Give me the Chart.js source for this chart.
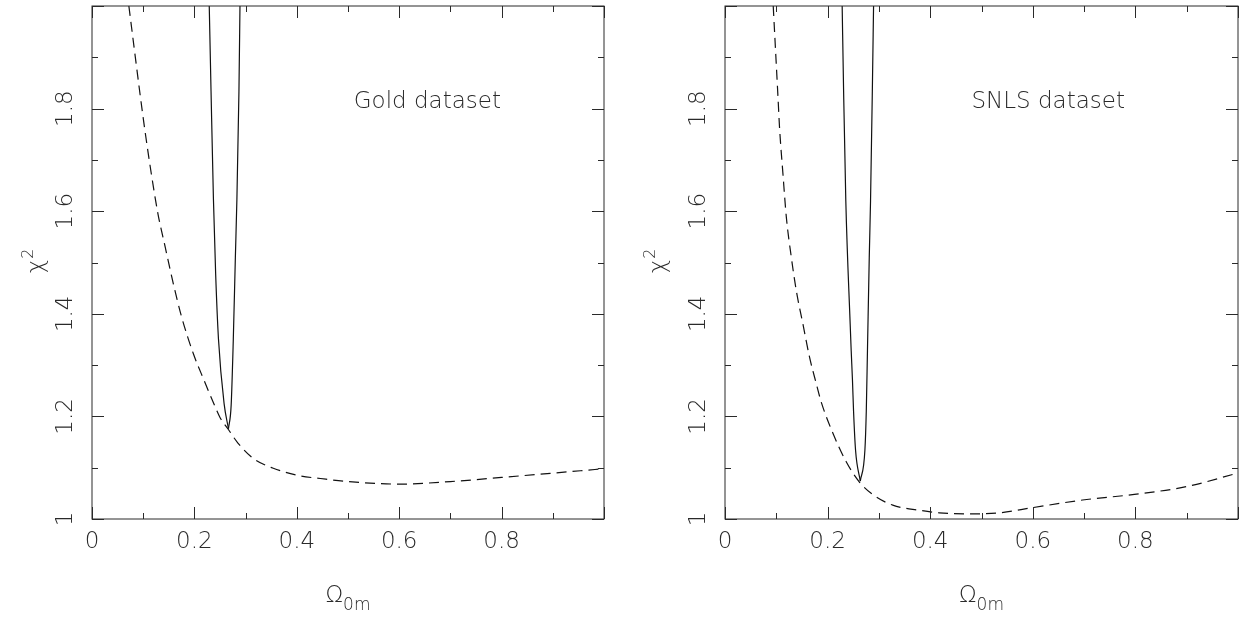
<!DOCTYPE html>
<html>
<head>
<meta charset="utf-8">
<script src="https://cdn.jsdelivr.net/npm/chart.js@4.4.1/dist/chart.umd.min.js"></script>
<style>
  html, body { margin: 0; padding: 0; background: #fff; }
  #wrap { position: relative; width: 1247px; height: 621px; }
  canvas { position: absolute; top: 0; }
</style>
</head>
<body>
<div id="wrap">
  <canvas id="gold" width="620" height="621" style="left:0"></canvas>
  <canvas id="snls" width="627" height="621" style="left:620px"></canvas>
</div>
<script>
// Gold dataset, dashed curve
const goldDashedX = [0.072, 0.094, 0.103, 0.116, 0.129, 0.143, 0.159, 0.175, 0.198, 0.219, 0.240, 0.250, 0.266, 0.285, 0.315, 0.354, 0.407, 0.446, 0.500, 0.602, 0.700, 0.800, 0.895, 1.000];
const goldDashedY = [2.000, 1.827, 1.760, 1.672, 1.594, 1.530, 1.458, 1.394, 1.322, 1.270, 1.220, 1.198, 1.175, 1.148, 1.118, 1.099, 1.084, 1.079, 1.073, 1.068, 1.073, 1.081, 1.089, 1.098];
// Gold dataset, solid curve (left branch down to the minimum, right branch back up)
const goldSolidLeftX = [0.2290, 0.2325, 0.2372, 0.2415, 0.2470, 0.2580, 0.2665];
const goldSolidLeftY = [2.000, 1.834, 1.623, 1.478, 1.351, 1.225, 1.176];
const goldSolidRightX = [0.2665, 0.2718, 0.2760, 0.2800, 0.2830, 0.2870, 0.2890];
const goldSolidRightY = [1.176, 1.222, 1.351, 1.510, 1.623, 1.834, 2.000];

// SNLS dataset, dashed curve
const snlsDashedX = [0.094, 0.1032, 0.1065, 0.113, 0.1196, 0.1293, 0.139, 0.1519, 0.1649, 0.1779, 0.1876, 0.210, 0.236, 0.262, 0.289, 0.327, 0.379, 0.418, 0.480, 0.535, 0.599, 0.697, 0.798, 0.899, 0.998];
const snlsDashedY = [2.000, 1.824, 1.760, 1.672, 1.588, 1.510, 1.445, 1.380, 1.315, 1.264, 1.228, 1.168, 1.112, 1.072, 1.047, 1.027, 1.017, 1.012, 1.010, 1.012, 1.022, 1.037, 1.048, 1.063, 1.089];
// SNLS dataset, solid curve
const snlsSolidLeftX = [0.2284, 0.2312, 0.2355, 0.2440, 0.2460, 0.2485, 0.2506, 0.2545, 0.2637];
const snlsSolidLeftY = [2.000, 1.834, 1.620, 1.380, 1.328, 1.270, 1.210, 1.134, 1.074];
const snlsSolidRightX = [0.2637, 0.2727, 0.2754, 0.2777, 0.2812, 0.2837, 0.2872, 0.2896];
const snlsSolidRightY = [1.074, 1.134, 1.210, 1.328, 1.510, 1.620, 1.834, 2.000];

// ticks
const xMajorTicks = [0, 0.2, 0.4, 0.6, 0.8, 1.0];
const xMinorTicks = [0.1, 0.3, 0.5, 0.7, 0.9];
const xTickLabels = ["0", "0.2", "0.4", "0.6", "0.8"];
const yMajorTicks = [1, 1.2, 1.4, 1.6, 1.8, 2.0];
const yMinorTicks = [1.1, 1.3, 1.5, 1.7, 1.9];
const yTickLabels = ["1", "1.2", "1.4", "1.6", "1.8"];

const FONT = '"DejaVu Sans", sans-serif';
const INK = "#2a2a2a";

function pts(xs, ys) {
    return xs.map((x, i) => ({ x, y: ys[i] }));
}

const framePlugin = {
    id: "frame",
    afterDraw(chart, args, o) {
        const { ctx, chartArea: a, scales: { x, y } } = chart;
        ctx.save();
        ctx.strokeStyle = INK;
        ctx.lineWidth = 1;
        ctx.strokeRect(a.left, a.top, a.right - a.left, a.bottom - a.top);

        ctx.beginPath();
        const tickX = (v, len) => {
            const px = Math.round(x.getPixelForValue(v)) + 0.5;
            ctx.moveTo(px, a.bottom); ctx.lineTo(px, a.bottom - len);
            ctx.moveTo(px, a.top); ctx.lineTo(px, a.top + len);
        };
        const tickY = (v, len) => {
            const py = Math.round(y.getPixelForValue(v)) + 0.5;
            ctx.moveTo(a.left, py); ctx.lineTo(a.left + len, py);
            ctx.moveTo(a.right, py); ctx.lineTo(a.right - len, py);
        };
        xMajorTicks.forEach(v => tickX(v, 12));
        xMinorTicks.forEach(v => tickX(v, 6));
        yMajorTicks.forEach(v => tickY(v, 12));
        yMinorTicks.forEach(v => tickY(v, 6));
        ctx.stroke();

        ctx.fillStyle = INK;
        ctx.font = `200 23px ${FONT}`;
        ctx.textAlign = "center";
        ctx.textBaseline = "middle";
        xTickLabels.forEach((t, i) => {
            ctx.fillText(t, x.getPixelForValue(xMajorTicks[i]), a.bottom + 23);
        });
        yTickLabels.forEach((t, i) => {
            ctx.save();
            ctx.translate(a.left - 26, y.getPixelForValue(yMajorTicks[i]));
            ctx.rotate(-Math.PI / 2);
            ctx.fillText(t, 0, 0);
            ctx.restore();
        });

        // x title: Omega_0m
        const cx = (a.left + a.right) / 2;
        ctx.textAlign = "left";
        ctx.textBaseline = "alphabetic";
        ctx.font = `200 23px ${FONT}`;
        const wO = ctx.measureText("Ω").width;
        ctx.font = `200 17px ${FONT}`;
        const wS = ctx.measureText("0m").width;
        const x0 = cx - (wO + wS) / 2;
        ctx.font = `200 23px ${FONT}`;
        ctx.fillText("Ω", x0, 602);
        ctx.font = `200 17px ${FONT}`;
        ctx.fillText("0m", x0 + wO, 610);

        // y title: chi^2
        ctx.save();
        ctx.translate(a.left - o.yTitleOffset, (a.top + a.bottom) / 2);
        ctx.rotate(-Math.PI / 2);
        ctx.font = `200 23px ${FONT}`;
        const wX = ctx.measureText("χ").width;
        ctx.fillText("χ", -(wX + 8) / 2, 8);
        ctx.font = `200 16px ${FONT}`;
        ctx.fillText("2", -(wX + 8) / 2 + wX + 1, -2);
        ctx.restore();

        // panel label
        ctx.font = `200 23px ${FONT}`;
        ctx.textAlign = "center";
        ctx.textBaseline = "middle";
        ctx.fillText(o.label, x.getPixelForValue(o.labelX), y.getPixelForValue(o.labelY));
        ctx.restore();
    }
};

function curve(xs, ys, dashed) {
    return {
        data: pts(xs, ys),
        showLine: true,
        borderColor: "#111",
        borderWidth: 1.2,
        borderDash: dashed ? [10, 6] : [],
        pointRadius: 0,
        cubicInterpolationMode: "monotone",
    };
}

function makeChart(id, datasets, padding, opts) {
    return new Chart(document.getElementById(id), {
        type: "scatter",
        data: { datasets },
        options: {
            responsive: false,
            animation: false,
            devicePixelRatio: 1,
            layout: { padding },
            scales: {
                x: { type: "linear", min: 0, max: 1, display: false },
                y: { type: "linear", min: 1, max: 2, display: false },
            },
            plugins: {
                legend: { display: false },
                tooltip: { enabled: false },
                frame: opts,
            },
        },
        plugins: [framePlugin],
    });
}

makeChart("gold", [
        curve(goldDashedX, goldDashedY, true),
        curve(goldSolidLeftX, goldSolidLeftY, false),
        curve(goldSolidRightX, goldSolidRightY, false),
    ],
    { left: 92, right: 16, top: 6, bottom: 102 },
    { label: "Gold dataset", labelX: 0.655, labelY: 1.812, yTitleOffset: 57 });

makeChart("snls", [
        curve(snlsDashedX, snlsDashedY, true),
        curve(snlsSolidLeftX, snlsSolidLeftY, false),
        curve(snlsSolidRightX, snlsSolidRightY, false),
    ],
    { left: 105, right: 9, top: 6, bottom: 102 },
    { label: "SNLS dataset", labelX: 0.63, labelY: 1.812, yTitleOffset: 68 });
</script>
</body>
</html>
